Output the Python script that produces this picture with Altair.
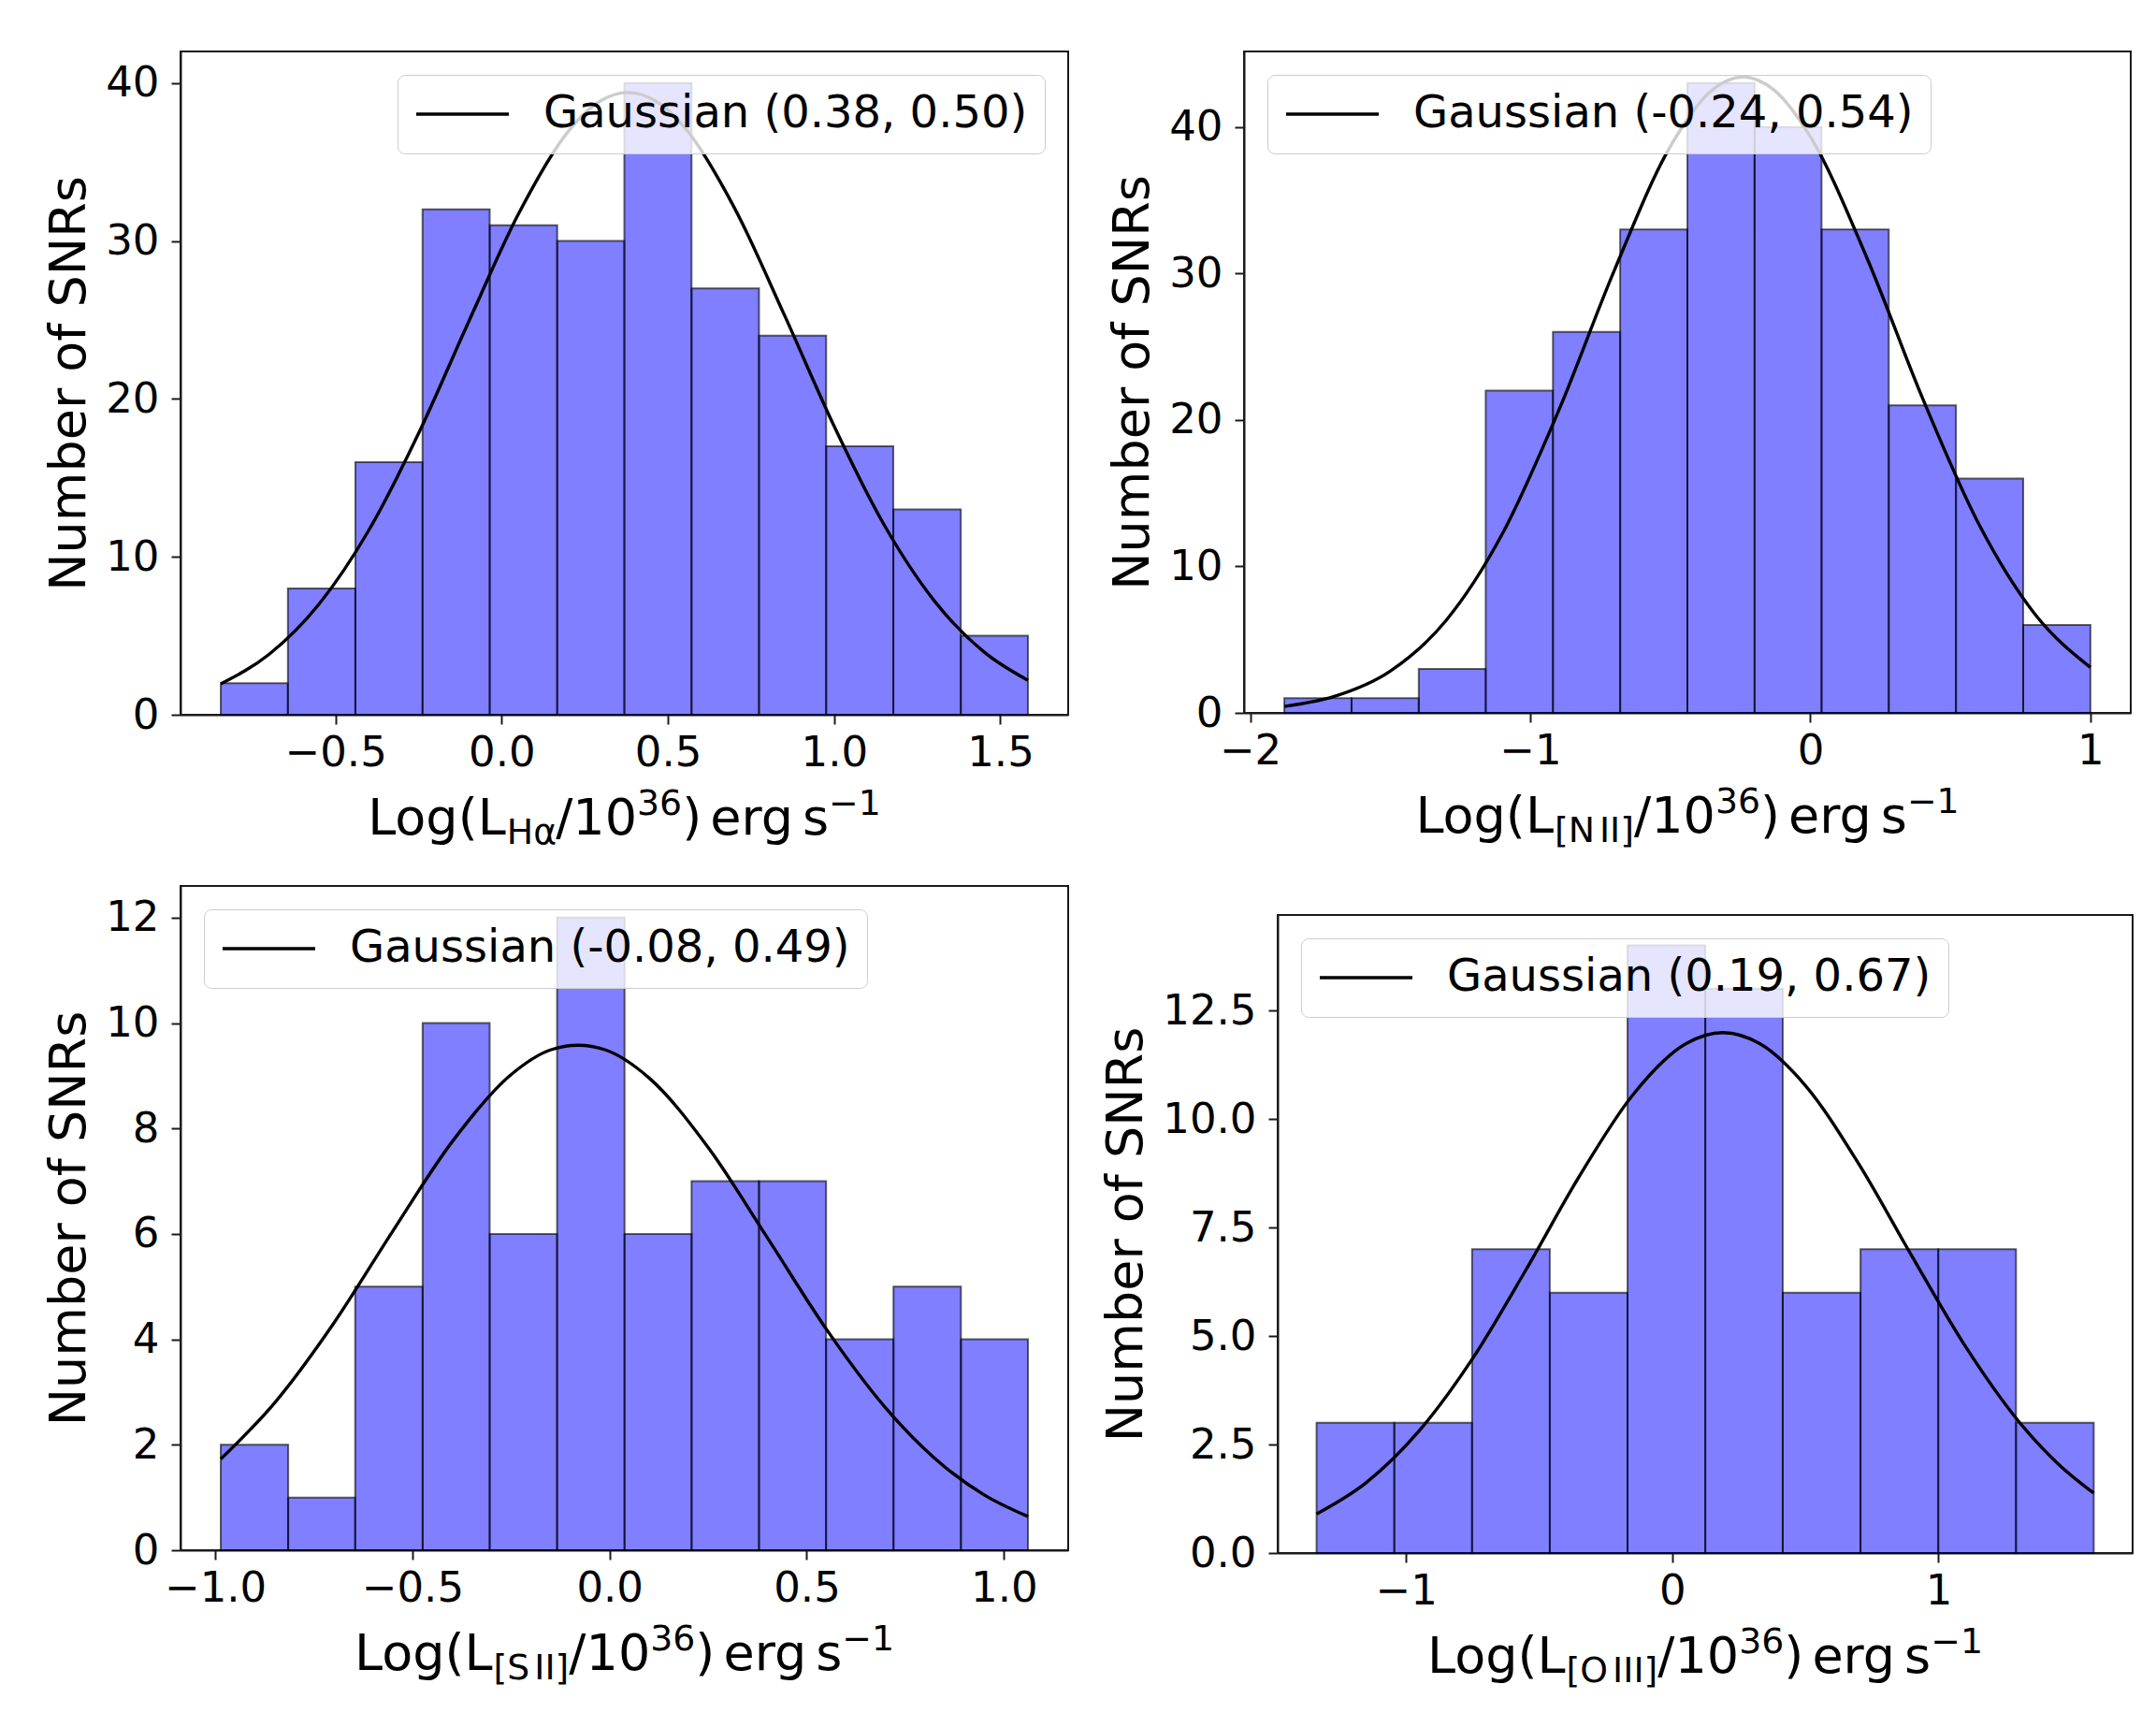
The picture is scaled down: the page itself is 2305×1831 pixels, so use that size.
import altair as alt
import pandas as pd

FONT = "DejaVu Sans"

# ---------------- data ----------------
# H-alpha
ha_edges = [-0.845, -0.643, -0.440, -0.238, -0.036, 0.167, 0.369, 0.571, 0.774, 0.976, 1.178, 1.381, 1.583]
ha_counts = [2, 8, 16, 32, 31, 30, 40, 27, 24, 17, 13, 5]
ha_fit_x = [-0.845, -0.7, -0.55, -0.4, -0.25, -0.1, 0.05, 0.2, 0.3, 0.38, 0.46, 0.55, 0.7, 0.85, 1.0, 1.15, 1.3, 1.45, 1.583]
ha_fit_y = [1.96, 3.82, 6.99, 11.67, 17.81, 24.85, 31.69, 36.93, 38.90, 39.40, 38.90, 37.19, 32.10, 25.33, 18.27, 12.04, 7.25, 3.99, 2.18]
ha_label = "Gaussian (0.38, 0.50)"

# [N II]
n2_edges = [-1.878, -1.638, -1.398, -1.159, -0.919, -0.679, -0.439, -0.199, 0.040, 0.280, 0.520, 0.760, 1.000]
n2_counts = [1, 1, 3, 22, 26, 33, 43, 40, 33, 21, 16, 6]
n2_fit_x = [-1.878, -1.7, -1.5, -1.3, -1.1, -0.9, -0.7, -0.5, -0.35, -0.24, -0.13, 0.0, 0.2, 0.4, 0.6, 0.8, 1.0]
n2_fit_y = [0.44, 1.12, 2.85, 6.32, 12.21, 20.57, 30.20, 38.66, 42.52, 43.41, 42.52, 39.33, 31.15, 21.51, 12.95, 6.79, 3.11]
n2_label = "Gaussian (-0.24, 0.54)"

# [S II]
s2_edges = [-0.986, -0.815, -0.645, -0.474, -0.304, -0.133, 0.038, 0.208, 0.379, 0.549, 0.720, 0.891, 1.061]
s2_counts = [2, 1, 5, 10, 6, 12, 6, 7, 7, 4, 5, 4]
s2_fit_x = [-0.986, -0.85, -0.7, -0.55, -0.4, -0.25, -0.15, -0.08, -0.01, 0.1, 0.25, 0.4, 0.55, 0.7, 0.85, 0.95, 1.061]
s2_fit_y = [1.73, 2.79, 4.30, 6.05, 7.74, 9.02, 9.49, 9.58, 9.49, 8.96, 7.64, 5.93, 4.19, 2.70, 1.58, 1.05, 0.64]
s2_label = "Gaussian (-0.08, 0.49)"

# [O III]
o3_edges = [-1.336, -1.044, -0.752, -0.460, -0.168, 0.124, 0.415, 0.707, 0.999, 1.291, 1.583]
o3_counts = [3, 3, 7, 6, 14, 13, 6, 7, 7, 3]
o3_fit_x = [-1.336, -1.15, -0.95, -0.75, -0.55, -0.35, -0.15, 0.05, 0.19, 0.33, 0.5, 0.7, 0.9, 1.1, 1.3, 1.45, 1.583]
o3_fit_y = [0.90, 1.62, 2.82, 4.48, 6.52, 8.67, 10.54, 11.73, 11.99, 11.73, 10.77, 8.97, 6.84, 4.77, 3.04, 2.05, 1.38]
o3_label = "Gaussian (0.19, 0.67)"

# tick values
ha_xticks = [-0.5, 0.0, 0.5, 1.0, 1.5]
n2_xticks = [-2, -1, 0, 1]
s2_xticks = [-1.0, -0.5, 0.0, 0.5, 1.0]
o3_xticks = [-1, 0, 1]
ha_yticks = [0, 10, 20, 30, 40]
n2_yticks = [0, 10, 20, 30, 40]
s2_yticks = [0, 2, 4, 6, 8, 10, 12]
o3_yticks = [0, 2.5, 5.0, 7.5, 10.0, 12.5]

# ---------------- styling / layout ----------------
TICK_FS = 45
TITLE_FS = 54
LEG_FS = 48
SUB = 0.7
CURVE_W = 3.4

ADV = {' ': 651, '(': 799, ')': 799, '/': 690, '[': 799, ']': 799, 'L': 1141, 'H': 1540,
       'N': 1532, 'I': 604, 'S': 1300, 'O': 1612, 'o': 1253, 'g': 1300, 'e': 1260,
       'r': 842, 's': 1067, '\u03b1': 1300, '\u2212': 1716}


def text_w(t, fs):
    return sum(ADV.get(c, 1303) for c in t) / 2048.0 * fs


def xlabel_pieces(subparts):
    pieces = [("Log(L", 1.0, 0)]
    for sp in subparts:
        if isinstance(sp, (int, float)):
            pieces.append(("GAP", sp, 0))
        else:
            pieces.append((sp, SUB, 10))
    pieces += [("/10", 1.0, 0), ("36", SUB, -21), (")", 1.0, 0), ("GAP", 9, 0),
               ("erg", 1.0, 0), ("GAP", 9, 0), ("s", 1.0, 0), ("\u22121", SUB, -21)]
    return pieces


def title_layers(pieces, width, height):
    total = 0.0
    for t, sc, dy in pieces:
        total += sc if t == "GAP" else text_w(t, TITLE_FS * sc)
    x = width / 2.0 - total / 2.0
    base = height + 128
    layers = []
    for t, sc, dy in pieces:
        if t == "GAP":
            x += sc
            continue
        fs = TITLE_FS * sc
        layers.append(
            alt.Chart(alt.Data(values=[{"k": 0}]))
            .mark_text(text=t, font=FONT, fontSize=fs, align="left",
                       baseline="alphabetic", color="black")
            .encode(x=alt.value(x), y=alt.value(base + dy))
        )
        x += text_w(t, fs)
    return layers


def panel(edges, counts, fit_x, fit_y, label, orient, xdom, ydom, xticks, xfmt,
          yticks, yfmt, width, height, subparts):
    bars_df = pd.DataFrame({"lo": edges[:-1], "hi": edges[1:], "count": counts,
                            "zero": [0] * len(counts)})
    fit_df = pd.DataFrame({"lo": fit_x, "count": fit_y, "name": [label] * len(fit_x)})

    xscale = alt.Scale(domain=xdom, nice=False, zero=False)
    yscale = alt.Scale(domain=ydom, nice=False, zero=False)

    bars = alt.Chart(bars_df).mark_rect(
        fill="#0000ff", fillOpacity=0.5, stroke="#000000", strokeOpacity=0.6, strokeWidth=2
    ).encode(
        x=alt.X("lo:Q", scale=xscale,
                axis=alt.Axis(values=xticks, format=xfmt, title=None)),
        x2="hi:Q",
        y=alt.Y("count:Q", scale=yscale,
                axis=alt.Axis(values=yticks, format=yfmt, title="Number of SNRs")),
        y2="zero:Q",
    )

    line = alt.Chart(fit_df).mark_line(strokeWidth=CURVE_W, interpolate="monotone").encode(
        x=alt.X("lo:Q"),
        y=alt.Y("count:Q"),
        color=alt.Color(
            "name:N",
            scale=alt.Scale(domain=[label], range=["#000000"]),
            legend=alt.Legend(
                title=None, orient=orient, offset=25, padding=18,
                fillColor="rgba(255,255,255,0.8)", strokeColor="#cccccc",
                cornerRadius=8, symbolType="stroke", symbolSize=9801,
                symbolStrokeWidth=CURVE_W, symbolStrokeColor="#000000",
                clipHeight=48, labelFontSize=LEG_FS, labelFont=FONT,
                labelColor="#000000", labelOffset=35, labelLimit=2000,
            ),
        ),
    )

    layers = [bars, line] + title_layers(xlabel_pieces(subparts), width, height)
    return alt.layer(*layers).properties(width=width, height=height)


p1 = panel(ha_edges, ha_counts, ha_fit_x, ha_fit_y, ha_label, "top-right",
           [-0.966, 1.704], [0, 42], ha_xticks, ".1f", ha_yticks, "d", 949, 709,
           ["H\u03b1"])
p2 = panel(n2_edges, n2_counts, n2_fit_x, n2_fit_y, n2_label, "top-left",
           [-2.022, 1.144], [0, 45.15], n2_xticks, "d", n2_yticks, "d", 948, 707,
           ["[N", 5, "II]"])
p3 = panel(s2_edges, s2_counts, s2_fit_x, s2_fit_y, s2_label, "top-left",
           [-1.088, 1.163], [0, 12.6], s2_xticks, ".1f", s2_yticks, "d", 949, 710,
           ["[S", 5, "II]"])
p4 = panel(o3_edges, o3_counts, o3_fit_x, o3_fit_y, o3_label, "top-left",
           [-1.482, 1.729], [0, 14.7], o3_xticks, "d", o3_yticks, ".1f", 914, 682,
           ["[O", 5, "III]"])

# invisible spacer that pushes the lower-right panel down a little
spacer = (
    alt.Chart(alt.Data(values=[{"k": 0}]))
    .mark_point(opacity=0)
    .encode(x=alt.value(0), y=alt.value(0))
    .properties(width=1, height=1, view=alt.ViewBackground(stroke="transparent"))
)
p4col = alt.vconcat(spacer, p4, spacing=26).resolve_scale(color="independent").resolve_legend(color="independent")

row1 = alt.hconcat(p1, p2, spacing=40).resolve_scale(color="independent").resolve_legend(color="independent")
row2 = alt.hconcat(p3, p4col, spacing=33).resolve_scale(color="independent").resolve_legend(color="independent")

chart = (
    alt.vconcat(row1, row2, spacing=32)
    .resolve_scale(color="independent")
    .resolve_legend(color="independent")
    .properties(padding={"left": 38, "top": 46, "right": 5, "bottom": 5}, background="white")
    .configure_view(stroke="#1a1a1a", strokeWidth=2)
    .configure_axis(
        labelFont=FONT, labelFontSize=TICK_FS, labelColor="#000000",
        titleFont=FONT, titleFontSize=TITLE_FS, titleFontWeight="normal", titleColor="#000000",
        tickColor="#1a1a1a", tickWidth=2, tickSize=10,
        domain=True, domainColor="#1a1a1a", domainWidth=2, zindex=1,
        grid=False, labelOverlap=False, labelFlush=False, labelBound=False,
    )
    .configure_axisX(labelPadding=8)
    .configure_axisY(labelPadding=13, titlePadding=11)
)

chart.save("out.html", embed_options={"renderer": "svg", "actions": False})
